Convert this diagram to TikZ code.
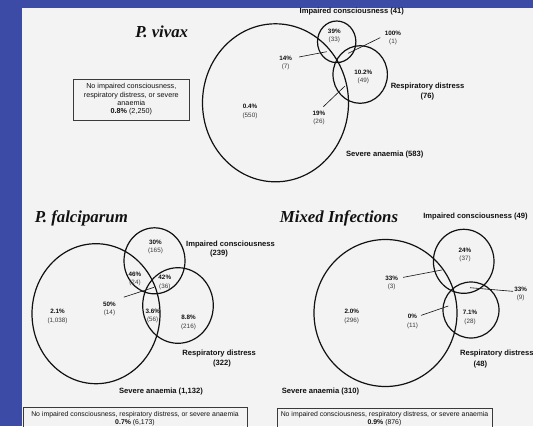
\documentclass[tikz,border=0pt]{standalone}
\usepackage{fontspec}
\setmainfont{Liberation Sans}
\newfontfamily\titlefont{Liberation Serif}
\usepackage{xcolor}
\usepackage{tikz}
\usetikzlibrary{positioning}
\definecolor{slide}{HTML}{3B4BA6}
\definecolor{panel}{HTML}{F3F3F3}
\definecolor{ink}{HTML}{111111}
\definecolor{soft}{HTML}{3A3A3A}
\tikzset{
  setring/.style={draw=ink, line width=1.2pt},
  lead/.style={draw=ink, line width=0.6pt},
  frame/.style={draw=soft, line width=0.8pt},
  pct/.style={font=\fontsize{6.3}{7}\selectfont\bfseries, text=ink, inner sep=0pt},
  cnt/.style={font=\fontsize{6.3}{7}\selectfont, text=soft, inner sep=0pt},
  setlab/.style={font=\fontsize{7.6}{9}\selectfont\bfseries, text=ink, inner sep=0pt},
  paneltitle/.style={font=\titlefont\fontsize{16.8}{18}\selectfont\bfseries\itshape, text=ink, inner sep=0pt, anchor=base},
  nonetext/.style={font=\fontsize{6.9}{8}\selectfont, text=ink, align=center, inner sep=0pt}
}
% percentage on top, count below it
\newcommand\share[4]{%
  \node[pct] (#1) at (#2) {#3};
  \node[cnt, below=3.4pt of #1] (#1n) {#4};}

\begin{document}
\begin{tikzpicture}[x=1pt,y=-1pt]
  \useasboundingbox (0,0) rectangle (533,426);
  \fill[slide] (0,0) rectangle (533,426);
  \fill[panel] (22,8) rectangle (533,426);

  % P. vivax
  \node[paneltitle] (vtitle) at (161.7,37.5) {P. vivax};
  \coordinate (vSA) at (275.5,102.8);
  \coordinate (vIC) at (336.7,41.8);
  \coordinate (vRD) at (360.2,74.5);
  \draw[setring] (vSA) ellipse (73 and 79);
  \draw[setring] (vIC) ellipse (19.2 and 20.8);
  \draw[setring] (vRD) ellipse (27.2 and 28.8);

  \node[setlab] (vICl) at (351.8,12) {Impaired consciousness (41)};
  \node[setlab] (vRDl) at (427.5,87) {Respiratory distress};
  \node[setlab] (vRDn) at (427.3,97) {(76)};
  \node[setlab] (vSAl) at (384.7,155) {Severe anaemia (583)};

  \share{v39}{334.3,31.3}{39\%}{(33)}
  \share{v100}{393,33}{100\%}{(1)}
  \share{v14}{285.7,58.3}{14\%}{(7)}
  \share{v102}{363.3,72}{10.2\%}{(49)}
  \share{v19}{319,113.3}{19\%}{(26)}
  \share{v04}{250,106.7}{0.4\%}{(550)}

  \coordinate (v14tip) at (326.7,51.7);
  \coordinate (v100tip) at (348.3,53.3);
  \coordinate (v19tip) at (345,86);
  \draw[lead, shorten <=7pt] (v14.east) -- (v14tip);
  \draw[lead, shorten <=5pt] (v100.south west) -- (v100tip);
  \draw[lead, shorten <=6pt] (v19.north) -- (v19tip);

  \draw[frame] (73.3,79) rectangle (189.3,120);
  \node[nonetext, font=\fontsize{7.2}{8.3}\selectfont] (vnone) at (131.3,99.5)
    {No impaired consciousness,\\respiratory distress, or severe\\anaemia\\\textbf{0.8\%} (2,250)};

  % P. falciparum
  \node[paneltitle] (ftitle) at (81.3,222.5) {P. falciparum};
  \coordinate (fSA) at (96,313.7);
  \coordinate (fIC) at (154.5,260.8);
  \coordinate (fRD) at (178,305.5);
  \draw[setring] (fSA) ellipse (64 and 70);
  \draw[setring] (fIC) ellipse (30.5 and 33);
  \draw[setring] (fRD) ellipse (35.3 and 37.8);

  \node[setlab] (fICl) at (230.5,245) {Impaired consciousness};
  \node[setlab] (fICn) at (219,254) {(239)};
  \node[setlab] (fRDl) at (219.2,354) {Respiratory distress};
  \node[setlab] (fRDn) at (222,364) {(322)};
  \node[setlab] (fSAl) at (161,392) {Severe anaemia (1,132)};

  \share{f30}{155.5,242}{30\%}{(165)}
  \share{f46}{135,274}{46\%}{(24)}
  \share{f42}{164.8,277.5}{42\%}{(36)}
  \share{f50}{109.5,304.3}{50\%}{(14)}
  \share{f36}{152.7,311}{3.6\%}{(56)}
  \share{f21}{57.5,311.5}{2.1\%}{(1,038)}
  \share{f88}{188.5,317.5}{8.8\%}{(216)}

  \coordinate (f50tip) at (154,287.3);
  \draw[lead, shorten <=15pt] (f50.north) -- (f50tip);

  \draw[frame] (23,428) |- (247,407) -- (247,428);
  \node[nonetext] (fnone) at (135,418.5)
    {No impaired consciousness, respiratory distress, or severe anaemia\\\textbf{0.7\%} (6,173)};

  % Mixed infections
  \node[paneltitle] (mtitle) at (339,222.3) {Mixed Infections};
  \coordinate (mSA) at (385.5,313);
  \coordinate (mIC) at (463.7,261.3);
  \coordinate (mRD) at (471,310);
  \draw[setring] (mSA) ellipse (71.5 and 73.5);
  \draw[setring] (mIC) ellipse (30.3 and 32);
  \draw[setring] (mRD) ellipse (28 and 28);

  \node[setlab] (mICl) at (475.5,216.7) {Impaired consciousness (49)};
  \node[setlab] (mRDl) at (496.8,353.3) {Respiratory distress};
  \node[setlab] (mRDn) at (480.3,364.3) {(48)};
  \node[setlab] (mSAl) at (320.5,391.7) {Severe anaemia (310)};

  \share{m24}{465,250}{24\%}{(37)}
  \share{m33a}{391.7,278.3}{33\%}{(3)}
  \share{m33b}{520.7,289}{33\%}{(9)}
  \share{m20}{351.7,311.7}{2.0\%}{(296)}
  \share{m0}{412.5,316.7}{0\%}{(11)}
  \share{m71}{470,312.7}{7.1\%}{(28)}

  \coordinate (m33atip) at (441.7,270);
  \coordinate (m33btip) at (470,287.7);
  \coordinate (m0tip) at (448.3,306);
  \draw[lead, shorten <=5pt] (m33a.east) -- (m33atip);
  \draw[lead, shorten <=1pt] (m33b.south west) -- (m33btip);
  \draw[lead, shorten <=4pt] (m0.east) -- (m0tip);

  \draw[frame] (277,428) |- (492,408) -- (492,428);
  \node[nonetext] (mnone) at (384.5,419)
    {No impaired consciousness, respiratory distress, or severe anaemia\\\textbf{0.9\%} (876)};
\end{tikzpicture}
\end{document}
